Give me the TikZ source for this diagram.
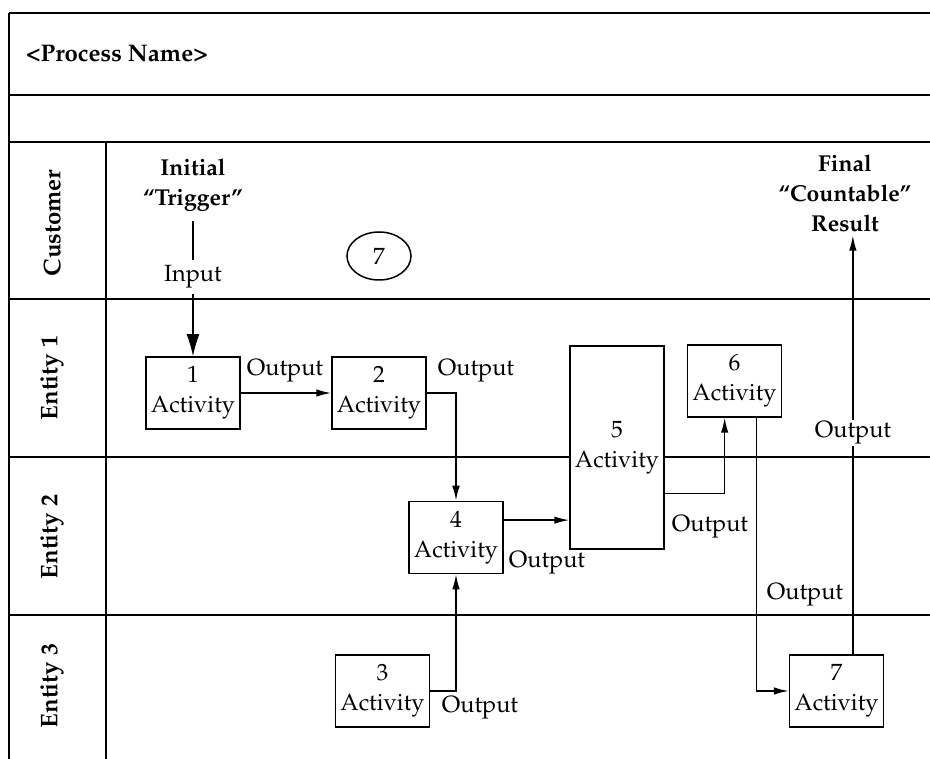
\documentclass[tikz,border=0pt]{standalone}
\usepackage[T1]{fontenc}
\usepackage{mathpazo}
\usetikzlibrary{arrows.meta,positioning,shapes.geometric}

\begin{document}
\begin{tikzpicture}[-,auto,x=1pt,y=-1pt,line width=1.5pt,font=\fontsize{23.5}{30}\selectfont]
\tikzstyle{activity}=[rectangle,draw=black,fill=white,minimum width=94pt,minimum height=72pt,align=center,inner sep=0pt]
\tikzstyle{lane}=[rotate=90,font=\fontsize{24}{28}\selectfont\bfseries]
\tikzstyle{head}=[align=center,font=\fontsize{23}{30}\selectfont\bfseries]
\tikzstyle{flow}=[-{Latex[length=15pt,width=7.5pt]}]
\tikzstyle{outlabel}=[inner sep=2pt]

\useasboundingbox (0,0) rectangle (930,759);

% frame and lanes
\draw (9,13) -- (930,13);
\draw (9,13) -- (9,759);
\foreach \y in {95,142,299,457,615}
  \draw (9,\y) -- (930,\y);
\draw (106,142) -- (106,759);

\node [anchor=west,font=\fontsize{24}{28}\selectfont\bfseries] (proc) at (22,54) {\textless Process Name\textgreater};
\node [lane] (cust) at (52,223) {Customer};
\node [lane] (ent1) at (52,378) {Entity 1};
\node [lane] (ent2) at (52,537) {Entity 2};
\node [lane] (ent3) at (52,686) {Entity 3};

\node [head,inner sep=9pt] (trig) at (193,185) {Initial\\``Trigger''};
\node [head] (fin) at (845,193) {Final\\``Countable''\\Result};
\node [ellipse,draw,minimum width=64pt,minimum height=48pt,inner sep=0pt] (c7) at (379,256) {7};
\node [outlabel,inner sep=5pt] (inp) at (193,277) {Input};

\node [activity] (a1) at (193,393) {1\\Activity};
\node [activity] (a2) at (379,393) {2\\Activity};
\node [activity] (a3) at (382.5,691) {3\\Activity};
\node [activity] (a4) at (456,537.5) {4\\Activity};
\node [activity,minimum height=203pt] (a5) at (617,447.5) {5\\Activity};
\node [activity] (a6) at (734.5,381) {6\\Activity};
\node [activity] (a7) at (836.5,691) {7\\Activity};

\draw (trig) -- (inp);
\draw [-{Latex[length=22pt,width=13pt]}] (inp) -- (a1);
\draw [flow] (a1) -- (a2);
\draw [flow] (a2) -| (a4);
\draw [flow] (a3) -| (a4);
\draw [flow] (a4.20) -- (a4.20 -| a5.west);
\draw [flow] (a5.-44) -| (a6.-105);
\draw [flow] (a6.-59) |- (a7);
\draw [flow] (a7.66) -- (a7.66 |- fin.south);

\node [outlabel] (o12) at (285,371) {Output};
\node [outlabel] (o24) at (476,371) {Output};
\node [outlabel] (o34) at (480,708) {Output};
\node [outlabel] (o45) at (547,563) {Output};
\node [outlabel] (o56) at (710,527) {Output};
\node [outlabel] (o67) at (805,595) {Output};
\node [outlabel,fill=white] (o7f) at (853,433) {Output};
\end{tikzpicture}
\end{document}
